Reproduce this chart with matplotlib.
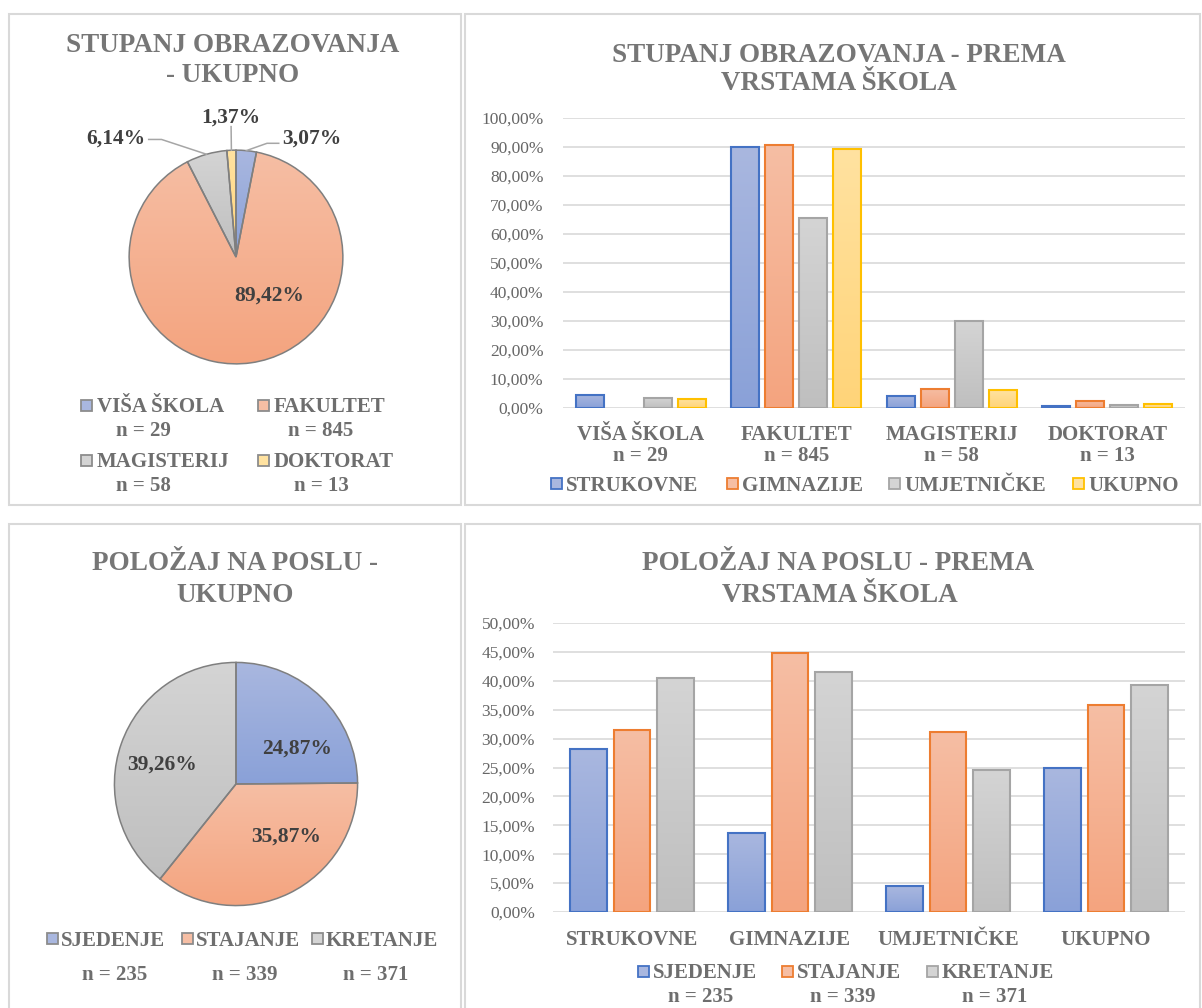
import numpy as np
import matplotlib.pyplot as plt
from matplotlib.patches import Rectangle
from matplotlib.colors import to_rgb

plt.rcParams['font.family'] = ['Liberation Serif', 'DejaVu Serif']

# ---- data ----
edu_levels = ['VIŠA ŠKOLA', 'FAKULTET', 'MAGISTERIJ', 'DOKTORAT']
edu_n = [29, 845, 58, 13]
edu_total_pct = [3.07, 89.42, 6.14, 1.37]

school_types = ['STRUKOVNE', 'GIMNAZIJE', 'UMJETNIČKE', 'UKUPNO']
edu_strukovne = [4.6, 89.9, 4.3, 0.7]
edu_gimnazije = [0.0, 90.8, 6.7, 2.5]
edu_umjetnicke = [3.3, 65.4, 29.9, 1.15]
edu_ukupno = [3.07, 89.42, 6.14, 1.37]

positions = ['SJEDENJE', 'STAJANJE', 'KRETANJE']
pos_n = [235, 339, 371]
pos_total_pct = [24.87, 35.87, 39.26]
pos_sjedenje = [28.2, 13.7, 4.45, 24.87]
pos_stajanje = [31.5, 44.8, 31.1, 35.87]
pos_kretanje = [40.4, 41.6, 24.5, 39.26]

# ---- style ----
BLUE = ('#a9b7df', '#8aa1d8', '#4472c4')
ORANGE = ('#f6bea4', '#f4a47f', '#ed7d31')
GRAY = ('#d4d4d4', '#bfbfbf', '#a5a5a5')
YELLOW = ('#ffe2a0', '#ffd479', '#ffc000')
TITLE_C = '#767676'
LABEL_C = '#6e6e6e'
TICK_C = '#666666'
PIE_TXT = '#404040'
GRID_C = '#d9d9d9'

W, H = 1202, 1008
fig = plt.figure(figsize=(W / 100, H / 100), dpi=100)


def box(x0, y0, x1, y1):
    return [x0 / W, 1 - y1 / H, (x1 - x0) / W, (y1 - y0) / H]


def ftext(x, y, s, size, color, ha='center', weight='bold'):
    fig.text(x / W, 1 - y / H, s, fontsize=size, color=color, ha=ha,
             va='center_baseline', fontweight=weight)


def grad_fill(ax, patch, top, bot):
    path = patch.get_path().transformed(patch.get_patch_transform())
    bb = path.get_extents()
    if bb.height <= 0:
        return
    t = np.linspace(0, 1, 64)[:, None, None]
    arr = (1 - t) * np.array(to_rgb(top)) + t * np.array(to_rgb(bot))
    im = ax.imshow(arr, extent=(bb.x0, bb.x1, bb.y0, bb.y1), origin='upper',
                   aspect='auto', interpolation='bilinear',
                   zorder=patch.get_zorder() - 0.05)
    im.set_clip_path(patch)
    patch.set_facecolor('none')


def legend_square(x, y, fill, edge, size=11):
    fig.patches.append(Rectangle((x / W, 1 - (y + size / 2) / H), size / W, size / H,
                                 transform=fig.transFigure, facecolor=fill,
                                 edgecolor=edge, linewidth=1.3))


# panel borders
for x0, y0, x1, y1 in [(9, 14, 461, 505), (465, 14, 1200, 505),
                       (9, 524, 461, 1012), (465, 524, 1200, 1012)]:
    fig.patches.append(Rectangle((x0 / W, 1 - y1 / H), (x1 - x0) / W, (y1 - y0) / H,
                                 transform=fig.transFigure, facecolor='none',
                                 edgecolor=GRID_C, linewidth=1.5))

# ---- top-left pie ----
ax1 = fig.add_axes(box(127, 148, 345, 366))
cols = [BLUE, ORANGE, GRAY, YELLOW]
wedges, _ = ax1.pie(edu_total_pct, startangle=90, counterclock=False,
                    colors=[c[0] for c in cols],
                    wedgeprops=dict(edgecolor='#7f7f7f', linewidth=1.1))
for w, c in zip(wedges, cols):
    grad_fill(ax1, w, c[0], c[1])
ax1.set_xlim(-1.02, 1.02)
ax1.set_ylim(-1.02, 1.02)
ax1.axis('off')

labels_pct = [f'{v:.2f}%'.replace('.', ',') for v in edu_total_pct]
ax1.text(0.31, -0.34, labels_pct[1], fontsize=15.5, fontweight='bold',
         color=PIE_TXT, ha='center', va='center_baseline')
# outside labels with leader lines
cum = np.cumsum([0] + edu_total_pct)
mids = [np.deg2rad(90 - (cum[i] + edu_total_pct[i] / 2) * 3.6) for i in range(4)]
lead = {0: ((0.43, 1.13, 'left'), [(0.40, 1.064), (0.29, 1.064)]),
        2: ((-0.85, 1.13, 'right'), [(-0.817, 1.10), (-0.697, 1.10)]),
        3: ((-0.046, 1.33, 'center'), [(-0.046, 1.22)])}
for i, ((tx, ty, ha), pts) in lead.items():
    xs = [p[0] for p in pts] + [np.cos(mids[i])]
    ys = [p[1] for p in pts] + [np.sin(mids[i])]
    ax1.plot(xs, ys, color='#a6a6a6', lw=1.1, clip_on=False)
    ax1.text(tx, ty, labels_pct[i], fontsize=15.5, fontweight='bold',
             color=PIE_TXT, ha=ha, va='center_baseline')

for i, (lab, n) in enumerate(zip(edu_levels, edu_n)):
    col, row = i % 2, i // 2
    mx = [81, 258][col]
    my = [405, 460][row]
    legend_square(mx, my, cols[i][0], '#8c8c8c')
    ftext(mx + 16, my, lab, 15, LABEL_C, ha='left')
    ftext([143, 321][col], my + 23, f'n = {n}', 15, LABEL_C)


# ---- bar chart helper ----
def bar_chart(rect, series, colors, ymax, ystep, width, step, cats, pad, xpad, lsp):
    ax = fig.add_axes(box(*rect))
    ng = len(series)
    x = np.arange(len(cats))
    for j, (vals, c) in enumerate(zip(series, colors)):
        off = (j - (ng - 1) / 2) * step
        bars = ax.bar(x + off, vals, width, color=c[0], edgecolor=c[2],
                      linewidth=1.5, zorder=2)
        for b, v in zip(bars, vals):
            if v <= 0:
                b.set_linewidth(0)
            grad_fill(ax, b, c[0], c[1])
    ax.set_xlim(-0.5, len(cats) - 0.5)
    ax.set_ylim(0, ymax)
    ticks = np.arange(0, ymax + 0.001, ystep)
    ax.set_yticks(ticks)
    ax.set_yticklabels([f'{t:.2f}%'.replace('.', ',') for t in ticks],
                       fontsize=12.5, color=TICK_C)
    ax.set_xticks(x)
    ax.set_xticklabels(cats, fontsize=15, fontweight='bold', color=LABEL_C,
                       linespacing=lsp)
    ax.tick_params(axis='y', length=0, pad=pad)
    ax.tick_params(axis='x', length=0, pad=xpad)
    ax.yaxis.grid(True, color=GRID_C, linewidth=1.2)
    ax.set_axisbelow(True)
    for s in ax.spines.values():
        s.set_visible(False)
    return ax


edu_cats = [f'{l}\nn = {n}' for l, n in zip(edu_levels, edu_n)]
ax2 = bar_chart((563, 118, 1185, 408),
                [edu_strukovne, edu_gimnazije, edu_umjetnicke, edu_ukupno],
                [BLUE, ORANGE, GRAY, YELLOW], 100, 10, 0.18, 0.218, edu_cats,
                14, 12, 1.1)

for mx, lab, c in zip([551, 727, 889, 1073], school_types,
                      [BLUE, ORANGE, GRAY, YELLOW]):
    legend_square(mx, 483, c[0], c[2])
    ftext(mx + 15, 483, lab, 15, LABEL_C, ha='left')

ftext(233, 43, 'STUPANJ OBRAZOVANJA', 19.5, TITLE_C)
ftext(233, 73, '- UKUPNO', 19.5, TITLE_C)
ftext(839, 52, 'STUPANJ OBRAZOVANJA - PREMA', 19.5, TITLE_C)
ftext(839, 81, 'VRSTAMA ŠKOLA', 19.5, TITLE_C)

# ---- bottom-left pie ----
ax3 = fig.add_axes(box(112, 660, 360, 908))
cols3 = [BLUE, ORANGE, GRAY]
wedges3, _ = ax3.pie(pos_total_pct, startangle=90, counterclock=False,
                     colors=[c[0] for c in cols3],
                     wedgeprops=dict(edgecolor='#7f7f7f', linewidth=1.1))
for w, c in zip(wedges3, cols3):
    grad_fill(ax3, w, c[0], c[1])
ax3.set_xlim(-1.02, 1.02)
ax3.set_ylim(-1.02, 1.02)
ax3.axis('off')
for (tx, ty), v in zip([(0.50, 0.31), (0.41, -0.41), (-0.605, 0.18)], pos_total_pct):
    ax3.text(tx, ty, f'{v:.2f}%'.replace('.', ','), fontsize=15.5,
             fontweight='bold', color=PIE_TXT, ha='center', va='center_baseline')

for mx, ncx, lab, n, c in zip([47, 182, 312], [115, 245, 376], positions, pos_n, cols3):
    legend_square(mx, 938, c[0], '#8c8c8c')
    ftext(mx + 14, 938, lab, 15, LABEL_C, ha='left')
    ftext(ncx, 973, f'n = {n}', 15, LABEL_C)

ftext(235, 561, 'POLOŽAJ NA POSLU -', 19.5, TITLE_C)
ftext(235, 593, 'UKUPNO', 19.5, TITLE_C)

# ---- bottom-right bars ----
ax4 = bar_chart((553, 623, 1185, 912),
                [pos_sjedenje, pos_stajanje, pos_kretanje],
                [BLUE, ORANGE, GRAY], 50, 5, 0.234, 0.278, school_types,
                13, 13, 1.0)

for mx, ncx, lab, n, c in zip([638, 782, 927], [701, 843, 995], positions, pos_n,
                              [BLUE, ORANGE, GRAY]):
    legend_square(mx, 971, c[0], c[2])
    ftext(mx + 15, 971, lab, 15, LABEL_C, ha='left')
    ftext(ncx, 995, f'n = {n}', 15, LABEL_C)

ftext(838, 561, 'POLOŽAJ NA POSLU - PREMA', 19.5, TITLE_C)
ftext(840, 593, 'VRSTAMA ŠKOLA', 19.5, TITLE_C)

fig.savefig('out.png', dpi=100)
